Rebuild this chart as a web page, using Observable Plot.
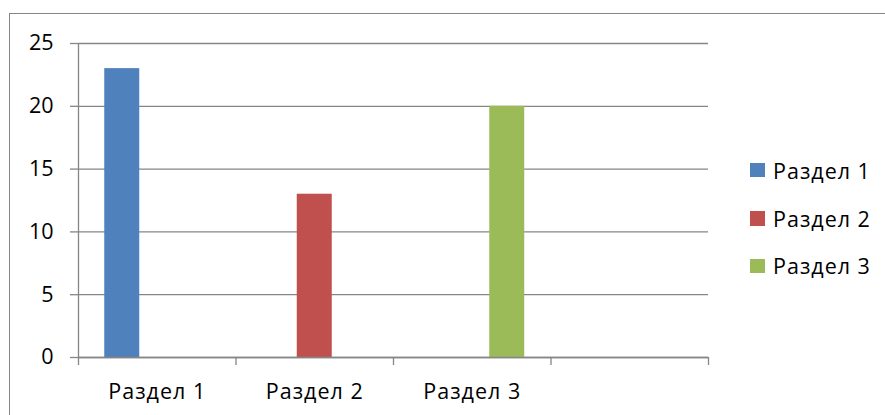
<!DOCTYPE html>
<html><head><meta charset="utf-8">
<script src="https://cdn.jsdelivr.net/npm/d3@7"></script>
<script src="https://cdn.jsdelivr.net/npm/@observablehq/plot@0.6"></script>
<style>
html,body{margin:0;padding:0;background:#fff;}
#wrap{position:relative;width:885px;height:415px;overflow:hidden;font-family:"Open Sans",sans-serif;color:#000;}
#border{position:absolute;left:9px;top:13px;width:1000px;height:600px;border-top:1px solid #868686;border-left:1px solid #868686;}
#chart{position:absolute;left:0;top:0;}
#legend{position:absolute;left:750px;top:0;}
.item{position:absolute;left:0;display:flex;align-items:center;white-space:nowrap;font-size:21.5px;letter-spacing:1px;height:30px;}
.sw{width:14.5px;height:14.5px;margin-right:8.5px;}
#chart g[aria-label="x-axis tick label"] text{letter-spacing:1px;}
</style>
</head><body>
<div id="wrap"><div id="border"></div><div id="chart"></div><div id="legend"></div></div>
<script>
const categories = ["Раздел 1", "Раздел 2", "Раздел 3"];
const slotCount = 4; // three labelled categories plus one empty slot
const seriesNames = ["Раздел 1", "Раздел 2", "Раздел 3"];
const series1 = [23, 0, 0];
const series2 = [0, 13, 0];
const series3 = [0, 0, 20];
const seriesColors = ["#4f81bd", "#c0504d", "#9bbb59"];
const yTicks = [0, 5, 10, 15, 20, 25];

const gapWidth = 1.5;
const barW = 1 / (seriesNames.length + gapWidth);
const rows = [];
[series1, series2, series3].forEach((vals, s) => vals.forEach((v, c) => {
  rows.push({cat: c, s, name: seriesNames[s], value: v});
}));
const x1 = d => d.cat + (1 - seriesNames.length * barW) / 2 + d.s * barW;
const gray = "#868686";

const chart = Plot.plot({
  width: 885, height: 415,
  marginLeft: 78, marginRight: 177, marginTop: 43, marginBottom: 58,
  style: {fontFamily: "'Open Sans', sans-serif", fontSize: "21.5px", color: "#000", background: "transparent"},
  x: {type: "linear", domain: [0, slotCount], label: null},
  y: {domain: [0, 25], label: null},
  color: {domain: seriesNames, range: seriesColors},
  marks: [
    Plot.gridY(yTicks, {stroke: gray, strokeOpacity: 1, strokeWidth: 1.3}),
    Plot.rectY(rows.filter(d => d.value > 0), {x1, x2: d => x1(d) + barW, y: "value", fill: "name"}),
    Plot.ruleX([0], {stroke: gray, strokeWidth: 1.3}),
    Plot.ruleY([0], {stroke: gray, strokeWidth: 1.3}),
    Plot.axisY({ticks: yTicks, tickSize: 8, tickPadding: 17, stroke: gray, strokeWidth: 1.3, fill: "#000", fontSize: 21.5, label: null}),
    Plot.axisX({ticks: d3.range(slotCount + 1), tickSize: 8, tickFormat: () => "", stroke: gray, strokeWidth: 1.3, label: null}),
    Plot.axisX({ticks: categories.map((_, i) => i + 0.5), tickSize: 0, tickPadding: 26, tickFormat: t => categories[Math.floor(t)], fill: "#000", fontSize: 21.5, label: null})
  ]
});
document.getElementById("chart").appendChild(chart);

const legend = document.getElementById("legend");
const legendCenters = [170, 218.5, 265.8];
seriesNames.forEach((n, i) => {
  const it = document.createElement("div");
  it.className = "item";
  it.style.top = (legendCenters[i] - 15) + "px";
  it.innerHTML = `<div class="sw" style="background:${seriesColors[i]}"></div><span>${n}</span>`;
  legend.appendChild(it);
});
</script>
</body></html>
